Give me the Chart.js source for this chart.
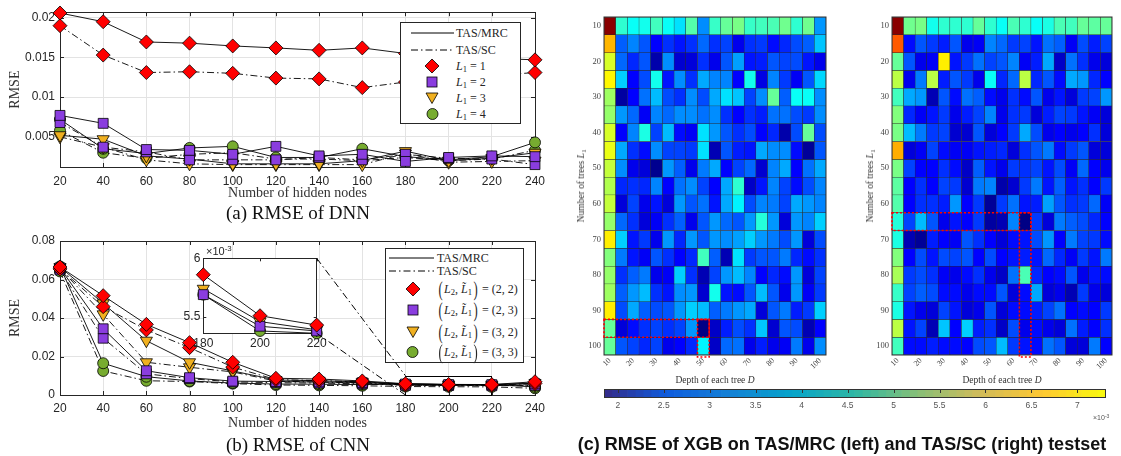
<!DOCTYPE html>
<html><head><meta charset="utf-8">
<script src="https://cdn.jsdelivr.net/npm/chart.js@4.4.0/dist/chart.umd.min.js"></script>
<style>
html,body{margin:0;padding:0;background:#fff;}
#wrap{position:relative;width:1121px;height:456px;overflow:hidden;background:#fff;}
canvas{position:absolute;}
.cap{position:absolute;transform:translate(-50%,-50%);white-space:nowrap;font-family:'Liberation Serif',serif;font-size:19px;color:#111;}
.capc{position:absolute;transform:translate(-50%,-50%);white-space:nowrap;font-family:'Liberation Sans',sans-serif;font-weight:bold;font-size:18px;color:#111;}
.leg{position:absolute;border:1px solid #262626;background:#fff;font-family:'Liberation Serif',serif;font-size:12px;color:#262626;box-sizing:border-box;}
.it{position:absolute;left:0;height:0;width:100%;}
.it > *{position:absolute;transform:translateY(-50%);white-space:nowrap;}
sub{font-size:0.72em;vertical-align:-0.3em;line-height:0;}
sup{font-size:0.72em;vertical-align:0.45em;line-height:0;}
.bp{display:inline-block;font-size:21px;transform:scaleX(0.6);vertical-align:-3px;line-height:0;}
.ht{position:absolute;transform:translate(-50%,-50%);white-space:nowrap;font-family:'Liberation Serif',serif;font-size:9.5px;color:#333;}
.mult{position:absolute;white-space:nowrap;font-family:'Liberation Sans',sans-serif;color:#262626;}
</style></head>
<body><div id="wrap">
<canvas id="cA" width="560" height="205" style="left:0;top:0"></canvas>
<div class="leg" style="left:400px;top:22px;width:121px;height:102px">
  <div class="it" style="top:10px"><svg style="left:10px" width="44" height="4"><line x1="0" y1="2" x2="43" y2="2" stroke="#000" stroke-width="1"/></svg><span style="left:55px">TAS/MRC</span></div>
  <div class="it" style="top:26.5px"><svg style="left:10px" width="44" height="4"><line x1="0" y1="2" x2="43" y2="2" stroke="#000" stroke-width="1" stroke-dasharray="7,3,1.5,3"/></svg><span style="left:55px">TAS/SC</span></div>
  <div class="it" style="top:42.5px"><svg style="left:23px" width="16" height="16"><polygon points="8,1 15,8 8,15 1,8" fill="#ff0000" stroke="#000" stroke-width="0.8"/></svg><span style="left:55px"><i>L</i><sub>1</sub> = 1</span></div>
  <div class="it" style="top:58.5px"><svg style="left:25px" width="12" height="12"><rect x="1" y="1" width="10" height="10" fill="#8a3ddf" stroke="#000" stroke-width="0.8"/></svg><span style="left:55px"><i>L</i><sub>1</sub> = 2</span></div>
  <div class="it" style="top:75px"><svg style="left:24px" width="14" height="12"><polygon points="1,1 13,1 7,11.5" fill="#f0b020" stroke="#000" stroke-width="0.8"/></svg><span style="left:55px"><i>L</i><sub>1</sub> = 3</span></div>
  <div class="it" style="top:91px"><svg style="left:24.5px" width="13" height="13"><circle cx="6.5" cy="6.5" r="5.5" fill="#77ac30" stroke="#000" stroke-width="0.8"/></svg><span style="left:55px"><i>L</i><sub>1</sub> = 4</span></div>
</div>
<div class="cap" style="left:298px;top:213px">(a) RMSE of DNN</div>

<canvas id="cB" width="560" height="210" style="left:0;top:225px"></canvas>
<div class="leg" style="left:385px;top:248px;width:139px;height:115px">
  <div class="it" style="top:9px"><svg style="left:3px" width="46" height="4"><line x1="0" y1="2" x2="45" y2="2" stroke="#000" stroke-width="1"/></svg><span style="left:51px">TAS/MRC</span></div>
  <div class="it" style="top:22px"><svg style="left:3px" width="46" height="4"><line x1="0" y1="2" x2="45" y2="2" stroke="#000" stroke-width="1" stroke-dasharray="7,3,1.5,3"/></svg><span style="left:51px">TAS/SC</span></div>
  <div class="it" style="top:40px"><svg style="left:18.7px" width="16" height="16"><polygon points="8,1 15,8 8,15 1,8" fill="#ff0000" stroke="#000" stroke-width="0.8"/></svg><span style="left:51px"><span class="bp">(</span><i>L</i><sub>2</sub>, <i>L&#771;</i><sub>1</sub><span class="bp">)</span> = (2, 2)</span></div>
  <div class="it" style="top:61px"><svg style="left:20.7px" width="12" height="12"><rect x="1" y="1" width="10" height="10" fill="#8a3ddf" stroke="#000" stroke-width="0.8"/></svg><span style="left:51px"><span class="bp">(</span><i>L</i><sub>2</sub>, <i>L&#771;</i><sub>1</sub><span class="bp">)</span> = (2, 3)</span></div>
  <div class="it" style="top:83px"><svg style="left:19.7px" width="14" height="12"><polygon points="1,1 13,1 7,11.5" fill="#f0b020" stroke="#000" stroke-width="0.8"/></svg><span style="left:51px"><span class="bp">(</span><i>L</i><sub>2</sub>, <i>L&#771;</i><sub>1</sub><span class="bp">)</span> = (3, 2)</span></div>
  <div class="it" style="top:103px"><svg style="left:20.2px" width="13" height="13"><circle cx="6.5" cy="6.5" r="5.5" fill="#77ac30" stroke="#000" stroke-width="0.8"/></svg><span style="left:51px"><span class="bp">(</span><i>L</i><sub>2</sub>, <i>L&#771;</i><sub>1</sub><span class="bp">)</span> = (3, 3)</span></div>
</div>
<canvas id="cI" width="400" height="170" style="left:150px;top:230px"></canvas>
<div class="mult" style="left:206px;top:245px;font-size:11px">×10<sup>-3</sup></div>
<div class="cap" style="left:298px;top:445px">(b) RMSE of CNN</div>

<canvas id="hL" width="262" height="385" style="left:570px;top:0"></canvas>
<canvas id="hR" width="262" height="385" style="left:858px;top:0"></canvas>
<div class="ht" style="left:581px;top:186px;transform:translate(-50%,-50%) rotate(-90deg)">Number of trees <i>L</i><sub>1</sub></div>
<div class="ht" style="left:870px;top:186px;transform:translate(-50%,-50%) rotate(-90deg)">Number of trees <i>L</i><sub>1</sub></div>
<div class="ht" style="left:715px;top:380px">Depth of each tree <i>D</i></div>
<div class="ht" style="left:1002px;top:380px">Depth of each tree <i>D</i></div>
<canvas id="cbar" width="531" height="45" style="left:590px;top:380px"></canvas>
<div class="mult" style="left:1093px;top:414px;font-size:7px;color:#555">×10<sup>-3</sup></div>
<div class="capc" style="left:842px;top:444px">(c) RMSE of XGB on TAS/MRC (left) and TAS/SC (right) testset</div>
</div>
<script>
// ---------------- DATA ----------------
const hiddenNodes = [20, 40, 60, 80, 100, 120, 140, 160, 180, 200, 220, 240];

// (a) DNN
const dnnMRC_L1 = [0.0206, 0.0195, 0.01695, 0.0168, 0.01645, 0.0162, 0.0159, 0.0162, 0.0155, 0.0151, 0.0149, 0.0147];
const dnnSC_L1  = [0.0190, 0.0153, 0.0131, 0.0132, 0.0130, 0.0124, 0.0123, 0.0112, 0.0119, 0.0123, 0.0127, 0.0131];
const dnnMRC_L2 = [0.0077, 0.0067, 0.0034, 0.0033, 0.0028, 0.0038, 0.0026, 0.0028, 0.0019, 0.0024, 0.0026, 0.0025];
const dnnSC_L2  = [0.0068, 0.0037, 0.0031, 0.0021, 0.0021, 0.0021, 0.0024, 0.0021, 0.0028, 0.0023, 0.0022, 0.0015];
const dnnMRC_L3 = [0.0052, 0.0047, 0.0026, 0.0022, 0.0016, 0.0016, 0.0016, 0.0020, 0.0032, 0.0020, 0.0023, 0.0030];
const dnnSC_L3  = [0.0050, 0.0037, 0.0021, 0.0016, 0.0015, 0.0015, 0.0015, 0.0015, 0.0029, 0.0018, 0.0019, 0.0020];
const dnnMRC_L4 = [0.0072, 0.0035, 0.0029, 0.0036, 0.0038, 0.0024, 0.0024, 0.0035, 0.0025, 0.0021, 0.0025, 0.0043];
const dnnSC_L4  = [0.0058, 0.0030, 0.0023, 0.0028, 0.0030, 0.0022, 0.0022, 0.0020, 0.0024, 0.0020, 0.0022, 0.0033];
const dnnYRange = [0.0012, 0.0207];
const dnnYTicks = [0.005, 0.01, 0.015, 0.02];

// (b) CNN
const cnnMRC_22 = [0.0665, 0.0516, 0.0367, 0.0272, 0.0170, 0.0087, 0.0083, 0.0073, 0.00586, 0.00551, 0.00543, 0.0069];
const cnnSC_22  = [0.0655, 0.0459, 0.0338, 0.0246, 0.0145, 0.0080, 0.0075, 0.0068, 0.0052, 0.0051, 0.0050, 0.0060];
const cnnMRC_23 = [0.0660, 0.0344, 0.0126, 0.0090, 0.0072, 0.0070, 0.0068, 0.0064, 0.00569, 0.00542, 0.00538, 0.0058];
const cnnSC_23  = [0.0650, 0.0295, 0.0110, 0.0085, 0.0068, 0.0064, 0.0062, 0.0058, 0.0050, 0.0049, 0.0048, 0.0050];
const cnnMRC_32 = [0.0665, 0.0476, 0.0282, 0.0170, 0.0125, 0.0078, 0.0074, 0.0068, 0.00574, 0.00546, 0.00539, 0.0062];
const cnnSC_32  = [0.0658, 0.0419, 0.0170, 0.0144, 0.0120, 0.0072, 0.0067, 0.0062, 0.0051, 0.0050, 0.0049, 0.0052];
const cnnMRC_33 = [0.0668, 0.0165, 0.0095, 0.0073, 0.0062, 0.0057, 0.0056, 0.0054, 0.00569, 0.00538, 0.00536, 0.0042];
const cnnSC_33  = [0.0642, 0.0125, 0.0074, 0.0070, 0.0059, 0.0052, 0.0050, 0.0048, 0.0044, 0.0043, 0.0042, 0.0035];
const cnnYRange = [0, 0.08];
const cnnYTicks = [0, 0.02, 0.04, 0.06, 0.08];
const zoomRangeX = [180, 220];
const zoomRangeY = [0, 0.01];
const insetYRange = [0.00536, 0.0060];
const insetXTicks = [180, 200, 220];
const insetYTicks = [0.0055, 0.006];

// (c) XGB heatmaps (RMSE x 1e-3), rows = trees L1 (10..100), cols = depth D (10..100)
const depthLabels = ['10','15','20','25','30','35','40','45','50','55','60','65','70','75','80','85','90','95','100'];
const treeLabels  = ['10','15','20','25','30','35','40','45','50','55','60','65','70','75','80','85','90','95','100'];
const xgbMRC = [
 [7.1,4.0,3.8,3.85,4.1,3.8,3.6,4.2,3.15,4.05,4.3,4.4,4.05,4.1,4.15,4.35,4.0,4.35,3.2],
 [5.5,2.9,3.1,2.85,2.4,2.65,2.5,2.65,2.95,2.65,2.75,2.3,2.65,2.7,2.45,2.6,2.8,2.9,3.45],
 [4.9,2.95,2.6,2.85,1.95,3.15,2.15,2.2,2.65,2.3,2.85,3.25,2.5,2.55,2.85,2.75,2.8,2.5,2.3],
 [5.15,3.5,2.4,2.8,3.85,2.5,3.15,2.65,3.3,3.1,3.1,2.4,3.85,2.25,3.1,2.7,2.35,2.85,3.55],
 [4.6,1.9,2.4,3.0,3.4,2.8,2.65,3.15,2.8,3.3,3.6,3.45,2.75,3.15,4.3,2.9,3.8,3.8,3.15],
 [4.55,3.2,2.95,2.35,3.1,2.95,3.15,3.15,3.0,3.15,2.65,2.4,2.65,2.55,3.0,3.0,2.8,2.7,3.15],
 [4.9,2.4,3.1,3.9,2.75,3.4,2.45,2.35,3.6,3.2,2.85,2.65,2.8,2.4,2.6,1.95,2.8,4.3,2.8],
 [5.0,3.3,2.65,2.45,3.15,2.75,2.75,2.7,3.6,2.0,2.85,2.55,2.5,3.3,3.15,3.15,2.45,1.85,2.85],
 [4.8,3.15,2.3,2.2,1.8,3.2,2.9,2.3,3.05,3.3,2.4,2.75,2.95,2.15,3.1,3.3,2.4,3.0,3.3],
 [4.7,2.6,2.65,2.6,3.1,2.4,3.0,3.15,2.75,2.4,3.3,4.0,2.1,2.5,3.1,2.75,2.45,2.8,3.1],
 [4.8,2.2,2.75,2.3,2.5,2.2,3.2,2.85,3.0,2.5,3.3,3.7,2.8,3.1,3.05,2.75,3.3,3.2,3.1],
 [4.55,2.95,2.65,2.2,2.35,2.65,2.9,2.3,2.85,3.2,2.95,2.85,3.2,3.95,3.2,2.2,3.2,3.1,3.5],
 [5.2,3.5,2.5,2.7,2.3,3.2,2.6,3.2,2.85,3.2,3.15,3.25,3.5,3.2,3.05,2.8,3.2,2.2,2.8],
 [4.45,3.05,2.5,2.35,2.85,2.65,2.4,2.6,4.1,2.9,2.0,3.6,2.7,2.85,2.85,3.05,2.6,2.45,2.65],
 [4.55,2.65,2.9,3.05,2.3,2.35,3.5,2.65,2.0,2.75,3.2,3.4,3.1,2.4,2.6,2.45,3.2,2.2,2.75],
 [4.6,2.9,3.2,3.4,2.65,2.5,3.15,3.2,2.15,3.85,2.5,2.45,2.85,3.4,2.85,2.3,3.2,2.35,2.7],
 [5.2,2.8,3.3,2.9,2.8,2.85,3.2,3.5,3.4,2.9,3.05,3.2,3.3,2.2,2.85,3.05,2.55,2.7,3.5],
 [4.3,2.2,2.45,2.65,2.75,2.65,2.75,3.2,1.75,2.1,2.55,2.8,2.65,3.45,2.15,2.85,2.8,2.0,2.4],
 [4.3,2.85,2.75,2.6,2.75,2.3,2.4,2.6,3.7,2.1,2.95,3.0,2.3,2.55,2.3,2.35,3.05,2.3,3.15]
];
const xgbSC = [
 [7.1,4.35,4.4,3.85,4.0,4.0,4.0,4.3,4.0,3.8,4.15,4.0,3.8,3.9,4.15,4.1,4.3,4.25,4.3],
 [6.0,2.45,2.85,2.7,2.55,2.85,2.3,2.35,3.1,2.95,2.7,2.75,2.5,3.0,2.9,2.35,2.8,2.55,2.75],
 [4.3,2.85,2.3,2.35,5.2,2.5,2.7,3.0,2.75,2.85,3.1,2.35,2.55,3.3,2.1,3.0,2.65,2.3,2.2],
 [4.75,2.3,3.05,4.75,2.55,2.85,2.7,2.3,3.8,2.6,2.95,4.75,2.6,2.85,2.45,3.3,3.2,2.6,2.4],
 [4.1,3.3,3.2,2.0,2.85,2.45,3.0,2.9,2.45,2.3,2.65,2.45,2.85,2.3,2.5,2.2,2.7,2.75,3.2],
 [4.45,2.6,2.35,2.5,2.7,2.3,2.55,2.75,3.1,2.3,2.65,2.7,2.2,2.55,2.75,2.7,2.5,2.35,2.2],
 [4.4,3.4,3.05,2.7,2.75,2.15,2.15,2.85,2.2,2.4,2.7,3.3,2.8,2.3,2.4,2.3,2.4,2.65,2.2],
 [5.55,2.2,2.35,2.75,2.45,2.35,2.35,2.5,2.55,2.6,2.2,2.65,2.85,3.05,2.45,2.7,2.85,2.2,2.2],
 [4.4,2.75,2.4,2.4,2.65,2.45,2.1,2.9,2.5,2.3,2.7,2.65,2.75,2.5,2.8,2.35,2.95,2.4,2.3],
 [4.25,2.4,2.65,2.4,2.75,2.7,2.15,3.05,3.1,1.95,2.15,2.7,3.05,2.5,2.9,2.5,2.65,2.4,2.7],
 [4.2,2.4,2.65,2.65,2.55,3.2,2.4,2.7,1.85,2.7,3.0,2.5,2.55,3.25,2.85,2.65,2.7,2.95,2.35],
 [3.95,2.75,3.4,2.85,2.3,2.5,2.4,2.7,1.9,2.0,3.1,1.75,2.7,2.2,3.05,2.9,2.8,2.6,2.4],
 [3.9,2.0,1.85,2.55,2.4,2.35,2.85,2.65,2.4,2.2,2.45,2.5,2.8,3.2,2.4,3.05,2.75,2.7,2.45],
 [4.45,2.4,2.8,2.5,2.8,2.75,2.85,2.4,2.8,2.4,2.5,2.55,2.5,2.95,2.6,2.35,2.7,2.5,3.05],
 [4.65,2.7,2.8,2.65,2.35,2.3,2.45,2.65,2.3,2.1,3.0,4.15,2.6,2.4,2.45,2.85,2.3,2.5,2.45],
 [4.05,2.75,2.9,2.8,2.45,2.45,2.3,2.45,2.45,2.85,2.2,2.45,3.3,2.2,2.3,2.0,2.7,2.3,2.2],
 [3.9,2.5,2.3,2.2,2.75,2.5,2.2,2.3,2.85,2.2,2.45,2.45,2.55,2.75,3.0,2.4,2.45,2.4,2.7],
 [4.75,2.5,2.75,2.0,3.45,2.4,3.5,2.55,2.65,2.1,2.8,2.3,2.45,2.3,2.2,3.0,2.55,2.4,2.65],
 [4.1,2.45,2.45,2.55,2.45,2.45,2.4,2.8,2.85,3.4,2.7,2.5,2.45,3.0,2.85,2.2,2.2,3.05,2.4]
];
const heatRange = [1.72, 7.15];
const mrcMark = ['50', '95'];   // [depth D, trees L1] of highlighted optimum
const scMark  = ['65', '65'];
const cbRange = [1.85, 7.30];
const cbTicks = [2, 2.5, 3, 3.5, 4, 4.5, 5, 5.5, 6, 6.5, 7];

// ---------------- STYLE ----------------
Chart.defaults.font.family = "'Liberation Sans', Arial, sans-serif";
Chart.defaults.color = '#262626';
const DASH = [7, 3, 1.5, 3];
const MK = {
  d:  {pointStyle: 'rectRot', pointRadius: 7, pointBackgroundColor: '#ff0000', pointRotation: 0},
  s:  {pointStyle: 'rect', pointRadius: 7, pointBackgroundColor: '#8a3ddf', pointRotation: 0},
  t:  {pointStyle: 'triangle', pointRadius: 7, pointBackgroundColor: '#f0b020', pointRotation: 180},
  c:  {pointStyle: 'circle', pointRadius: 5.5, pointBackgroundColor: '#77ac30', pointRotation: 0}
};
function series(vals, mk, dashed, filterX) {
  let pts = vals.map((v, i) => ({x: hiddenNodes[i], y: v}));
  if (filterX) pts = pts.filter(p => p.x >= filterX[0] && p.x <= filterX[1]);
  return Object.assign({
    data: pts, borderColor: '#000', borderWidth: 0.9, borderDash: dashed ? DASH : [],
    pointBorderColor: '#000', pointBorderWidth: 0.8, fill: false, tension: 0, clip: false
  }, MK[mk]);
}

const matlabAxes = {
  id: 'matlabAxes',
  beforeDatasetsDraw(chart, args, opts) {
    const {ctx, chartArea: a, scales: {x, y}} = chart;
    ctx.save();
    ctx.strokeStyle = '#262626'; ctx.lineWidth = 1; ctx.setLineDash([]);
    ctx.strokeRect(Math.round(a.left) + 0.5, Math.round(a.top) + 0.5, Math.round(a.right - a.left), Math.round(a.bottom - a.top));
    const tl = opts.tickLen || 4;
    ctx.beginPath();
    x.ticks.forEach(t => { const p = Math.round(x.getPixelForValue(t.value)) + 0.5;
      ctx.moveTo(p, a.bottom); ctx.lineTo(p, a.bottom - tl); ctx.moveTo(p, a.top); ctx.lineTo(p, a.top + tl); });
    y.ticks.forEach(t => { const p = Math.round(y.getPixelForValue(t.value)) + 0.5;
      ctx.moveTo(a.left, p); ctx.lineTo(a.left + tl, p); ctx.moveTo(a.right, p); ctx.lineTo(a.right - tl, p); });
    ctx.stroke();
    if (opts.zoomBox) {
      const [xr, yr] = opts.zoomBox;
      const x0 = x.getPixelForValue(xr[0]), x1 = x.getPixelForValue(xr[1]);
      const y0 = y.getPixelForValue(yr[1]), y1 = y.getPixelForValue(yr[0]);
      ctx.strokeStyle = '#000';
      ctx.strokeRect(Math.round(x0) + 0.5, Math.round(y0) + 0.5, Math.round(x1 - x0), Math.round(y1 - y0));
    }
    ctx.restore();
  }
};

function lineOpts(yRange, yTicks, xPad, yFit, xFit) {
  return {
    responsive: false, animation: false, devicePixelRatio: 1, events: [],
    layout: {padding: {left: 0, right: 25, top: yFit.top, bottom: 0}},
    plugins: {legend: {display: false}, tooltip: {enabled: false}, matlabAxes: {tickLen: 4, zoomBox: yFit.zoom}},
    scales: {
      x: {type: 'linear', min: hiddenNodes[0], max: hiddenNodes[hiddenNodes.length - 1],
          ticks: {stepSize: 20, font: {size: 12}, padding: xPad, color: '#262626', maxRotation: 0},
          grid: {color: '#e3e3e3', drawTicks: false}, border: {display: false},
          title: {display: true, text: 'Number of hidden nodes', font: {family: "'Liberation Serif', serif", size: 14}, color: '#333', padding: {top: 0, bottom: 3}},
          afterFit: s => { s.height = xFit; }},
      y: {type: 'linear', min: yRange[0], max: yRange[1],
          afterBuildTicks: s => { s.ticks = yTicks.map(v => ({value: v})); },
          ticks: {font: {size: 12}, padding: 5, color: '#262626', callback: v => String(v)},
          grid: {color: '#e3e3e3', drawTicks: false}, border: {display: false},
          title: {display: true, text: 'RMSE', font: {family: "'Liberation Serif', serif", size: 14}, color: '#333', padding: {top: 7, bottom: 0}},
          afterFit: s => { s.width = 60; }}
    }
  };
}

// (a)
new Chart(document.getElementById('cA'), {
  type: 'line',
  data: {datasets: [
    series(dnnMRC_L1, 'd', false), series(dnnSC_L1, 'd', true),
    series(dnnMRC_L2, 's', false), series(dnnSC_L2, 's', true),
    series(dnnMRC_L3, 't', false), series(dnnSC_L3, 't', true),
    series(dnnMRC_L4, 'c', false), series(dnnSC_L4, 'c', true)
  ]},
  options: lineOpts(dnnYRange, dnnYTicks, 7, {top: 10}, 38),
  plugins: [matlabAxes]
});

// (b)
const cnnSeries = (fx) => [
  series(cnnMRC_22, 'd', false, fx), series(cnnSC_22, 'd', true, fx),
  series(cnnMRC_23, 's', false, fx), series(cnnSC_23, 's', true, fx),
  series(cnnMRC_32, 't', false, fx), series(cnnSC_32, 't', true, fx),
  series(cnnMRC_33, 'c', false, fx), series(cnnSC_33, 'c', true, fx)
];
const chartB = new Chart(document.getElementById('cB'), {
  type: 'line',
  data: {datasets: cnnSeries(null)},
  options: lineOpts(cnnYRange, cnnYTicks, 6, {top: 16, zoom: [zoomRangeX, zoomRangeY]}, 40),
  plugins: [matlabAxes]
});

// inset
const insetDeco = {
  id: 'insetDeco',
  beforeDraw(chart) {
    const {ctx, chartArea: a} = chart;
    ctx.save(); ctx.fillStyle = '#fff'; ctx.fillRect(a.left, a.top, a.right - a.left, a.bottom - a.top); ctx.restore();
  },
  afterDraw(chart) {
    const {ctx, chartArea: a} = chart;
    const rI = chart.canvas.getBoundingClientRect(), rB = chartB.canvas.getBoundingClientRect();
    const dx = rB.left - rI.left, dy = rB.top - rI.top;
    const bx = chartB.scales.x.getPixelForValue(zoomRangeX[0]) + dx;
    const byTop = chartB.scales.y.getPixelForValue(zoomRangeY[1]) + dy;
    const byBot = chartB.scales.y.getPixelForValue(zoomRangeY[0]) + dy;
    ctx.save();
    ctx.strokeStyle = '#000'; ctx.lineWidth = 1; ctx.setLineDash(DASH);
    ctx.beginPath();
    ctx.moveTo(a.right, a.top); ctx.lineTo(bx, byTop);
    ctx.moveTo(a.right, a.bottom); ctx.lineTo(bx, byBot);
    ctx.stroke();
    ctx.restore();
  }
};
const insetSets = cnnSeries(zoomRangeX).map(d => Object.assign(d, {clip: {left: 9, right: 9, top: 2, bottom: 7}}));
new Chart(document.getElementById('cI'), {
  type: 'line',
  data: {datasets: insetSets},
  options: {
    responsive: false, animation: false, devicePixelRatio: 1, events: [],
    layout: {padding: {left: 0, right: 233.3, top: 28.3, bottom: 0}},
    plugins: {legend: {display: false}, tooltip: {enabled: false}, matlabAxes: {tickLen: 3}},
    scales: {
      x: {type: 'linear', min: zoomRangeX[0], max: zoomRangeX[1],
          afterBuildTicks: s => { s.ticks = insetXTicks.map(v => ({value: v})); },
          ticks: {font: {size: 12}, padding: 3, color: '#262626', maxRotation: 0},
          grid: {display: false, drawTicks: false}, border: {display: false},
          afterFit: s => { s.height = 66.7; }},
      y: {type: 'linear', min: insetYRange[0], max: insetYRange[1],
          afterBuildTicks: s => { s.ticks = insetYTicks.map(v => ({value: v})); },
          ticks: {font: {size: 12}, padding: 3, color: '#262626', callback: v => String(Math.round(v * 10000) / 10)},
          grid: {display: false, drawTicks: false}, border: {display: false},
          afterFit: s => { s.width = 53.3; }}
    }
  },
  plugins: [insetDeco, matlabAxes]
});

// (c) heatmaps
function jet(v) {
  const t = Math.max(0, Math.min(1, (v - heatRange[0]) / (heatRange[1] - heatRange[0])));
  const c = u => Math.round(255 * Math.max(0, Math.min(1, u)));
  return `rgb(${c(1.5 - Math.abs(4 * t - 3))},${c(1.5 - Math.abs(4 * t - 2))},${c(1.5 - Math.abs(4 * t - 1))})`;
}
const heatDeco = {
  id: 'heatDeco',
  afterDatasetsDraw(chart, args, opts) {
    const {ctx, chartArea: a, scales: {x, y}} = chart;
    ctx.save();
    ctx.strokeStyle = '#333'; ctx.lineWidth = 1;
    ctx.strokeRect(a.left, a.top, a.right - a.left, a.bottom - a.top);
    const ci = depthLabels.indexOf(opts.mark[0]), ri = treeLabels.indexOf(opts.mark[1]);
    const cw = (a.right - a.left) / depthLabels.length;
    const xc = x.getPixelForValue(ci);
    const yt = y.getPixelForValue(ri), yb = y.getPixelForValue(ri + 1);
    ctx.strokeStyle = '#ff0000'; ctx.lineWidth = 1.6; ctx.setLineDash([2, 2]);
    ctx.strokeRect(a.left, yt, xc + cw / 2 - a.left, yb - yt);
    ctx.strokeRect(xc - cw / 2, yt, cw, a.bottom + 2 - yt);
    ctx.restore();
  }
};
function heatmap(id, grid, mark, padRight) {
  new Chart(document.getElementById(id), {
    type: 'bar',
    data: {
      labels: depthLabels,
      datasets: grid.map(row => ({
        data: row.map(() => 1),
        backgroundColor: row.map(jet),
        borderColor: '#2a2a2a', borderWidth: 0.5, borderSkipped: false,
        barPercentage: 1, categoryPercentage: 1
      }))
    },
    options: {
      responsive: false, animation: false, devicePixelRatio: 1, events: [],
      layout: {padding: {left: 0, right: padRight, top: 17, bottom: 0}},
      plugins: {legend: {display: false}, tooltip: {enabled: false}, heatDeco: {mark: mark}},
      scales: {
        x: {stacked: true, grid: {display: false, drawTicks: false}, border: {display: false},
            ticks: {autoSkip: false, minRotation: 45, maxRotation: 45, padding: 1, color: '#444',
                    font: {family: "'Liberation Serif', serif", size: 8},
                    callback: (v, i) => (i % 2 === 0 ? depthLabels[i] : '')},
            afterFit: s => { s.height = 30; }},
        y: {stacked: true, reverse: true, min: 0, max: treeLabels.length,
            grid: {display: false, drawTicks: false}, border: {display: false},
            afterBuildTicks: s => { s.ticks = treeLabels.map((l, i) => i).filter(i => i % 2 === 0).map(i => ({value: i + 0.5})); },
            ticks: {padding: 3, color: '#444', font: {family: "'Liberation Serif', serif", size: 8.5},
                    callback: v => treeLabels[v - 0.5]},
            afterFit: s => { s.width = 34; }}
      }
    },
    plugins: [heatDeco]
  });
}
heatmap('hL', xgbMRC, mrcMark, 6);
heatmap('hR', xgbSC, scMark, 8);

// colorbar (parula)
const parulaStops = [[53,42,135],[15,92,221],[20,129,214],[6,164,202],[46,183,164],[135,191,119],[209,187,89],[254,200,50],[249,251,14]];
function parula(t) {
  t = Math.max(0, Math.min(1, t));
  const n = parulaStops.length - 1, f = t * n, i = Math.min(n - 1, Math.floor(f)), u = f - i;
  const a = parulaStops[i], b = parulaStops[i + 1];
  return `rgb(${Math.round(a[0] + (b[0] - a[0]) * u)},${Math.round(a[1] + (b[1] - a[1]) * u)},${Math.round(a[2] + (b[2] - a[2]) * u)})`;
}
const nBands = 64;
const bands = Array.from({length: nBands}, (_, i) => {
  const lo = cbRange[0] + (cbRange[1] - cbRange[0]) * i / nBands;
  const hi = cbRange[0] + (cbRange[1] - cbRange[0]) * (i + 1) / nBands;
  return {data: [[lo, hi]], backgroundColor: parula((i + 0.5) / nBands), borderWidth: 0,
          grouped: false, barPercentage: 1, categoryPercentage: 1};
});
const cbDeco = {
  id: 'cbDeco',
  afterDatasetsDraw(chart) {
    const {ctx, chartArea: a, scales: {x}} = chart;
    ctx.save();
    ctx.strokeStyle = '#333'; ctx.lineWidth = 1;
    ctx.strokeRect(Math.round(a.left) + 0.5, Math.round(a.top) + 0.5, Math.round(a.right - a.left), Math.round(a.bottom - a.top));
    ctx.beginPath();
    cbTicks.forEach(v => { const p = Math.round(x.getPixelForValue(v)) + 0.5; ctx.moveTo(p, a.top); ctx.lineTo(p, a.top + 4); });
    ctx.stroke();
    ctx.restore();
  }
};
new Chart(document.getElementById('cbar'), {
  type: 'bar',
  data: {labels: [''], datasets: bands},
  options: {
    indexAxis: 'y', responsive: false, animation: false, devicePixelRatio: 1, events: [],
    layout: {padding: {left: 14, right: 16, top: 9, bottom: 0}},
    plugins: {legend: {display: false}, tooltip: {enabled: false}},
    scales: {
      x: {type: 'linear', min: cbRange[0], max: cbRange[1],
          afterBuildTicks: s => { s.ticks = cbTicks.map(v => ({value: v})); },
          ticks: {font: {size: 8.5}, color: '#555', padding: 4, callback: v => String(v), maxRotation: 0},
          grid: {display: false, drawTicks: false}, border: {display: false},
          afterFit: s => { s.height = 28; }},
      y: {display: false}
    }
  },
  plugins: [cbDeco]
});
</script>
</body></html>
